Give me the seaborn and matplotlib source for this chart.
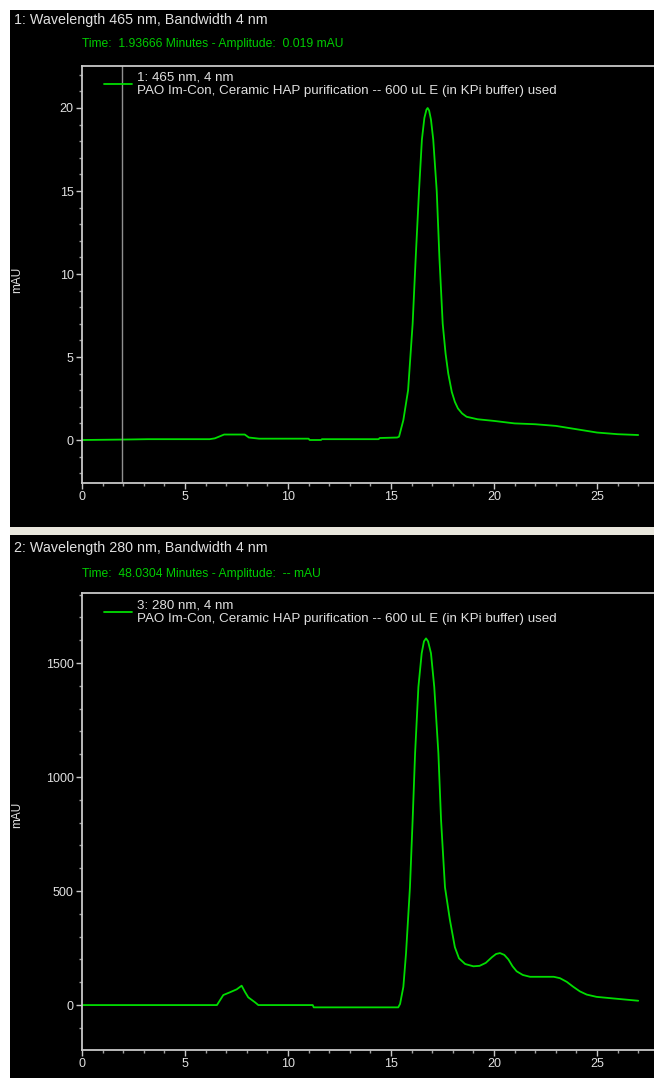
import matplotlib
matplotlib.use("Agg")
import matplotlib.pyplot as plt
from matplotlib.patches import Rectangle
from matplotlib.ticker import MultipleLocator
import seaborn as sns
import pandas as pd

# channel 1: 465 nm
time_465 = [0, 2.2, 3.2, 6.2, 6.45, 6.9, 7.9, 8.1, 8.6, 11.0, 11.05, 11.6, 11.65,
            14.4, 14.45, 15.3, 15.39, 15.6, 15.83, 16.05, 16.2, 16.36, 16.5, 16.62,
            16.72, 16.78, 16.85, 16.94, 17.05, 17.22, 17.35, 17.51, 17.65, 17.78,
            17.95, 18.1, 18.25, 18.45, 18.67, 19.2, 20.0, 21.0, 22.0, 23.0, 24.0,
            25.0, 25.5, 26.0, 27.0]
mau_465 = [0.0, 0.03, 0.05, 0.05, 0.1, 0.33, 0.33, 0.15, 0.08, 0.08, 0.0, 0.0, 0.05,
           0.05, 0.12, 0.15, 0.2, 1.2, 3.0, 7.0, 11.0, 15.0, 18.1, 19.4,
           19.9, 20.0, 19.85, 19.3, 18.1, 15.0, 11.0, 7.0, 5.2, 4.0,
           2.9, 2.3, 1.9, 1.6, 1.4, 1.25, 1.15, 1.0, 0.95, 0.85, 0.65,
           0.45, 0.4, 0.35, 0.3]

# channel 3: 280 nm
time_280 = [0, 6.55, 6.86, 7.18, 7.51, 7.75, 7.91, 8.07, 8.4, 8.56, 11.2, 11.25,
            15.35, 15.44, 15.6, 15.73, 15.92, 16.05, 16.17, 16.33, 16.49, 16.6,
            16.7, 16.8, 16.94, 17.1, 17.3, 17.43, 17.62, 17.86, 18.1, 18.3, 18.6,
            19.0, 19.3, 19.6, 19.9, 20.1, 20.29, 20.5, 20.7, 20.9, 21.1, 21.4,
            21.75, 22.9, 23.2, 23.53, 23.85, 24.17, 24.5, 24.98, 25.8, 27.0]
mau_280 = [0, 0, 44, 56, 69, 85, 58, 34, 12, 0, 0, -10,
           -10, 5, 80, 228, 517, 811, 1105, 1395, 1543, 1595,
           1608, 1595, 1543, 1395, 1105, 811, 517, 373, 254, 205, 180,
           170, 172, 185, 210, 224, 228, 220, 200, 170, 148, 132,
           124, 124, 118, 102, 80, 60, 46, 36, 29, 19]

headers = ["1: Wavelength 465 nm, Bandwidth 4 nm", "2: Wavelength 280 nm, Bandwidth 4 nm"]
cursor_texts = ["Time:  1.93666 Minutes - Amplitude:  0.019 mAU",
                "Time:  48.0304 Minutes - Amplitude:  -- mAU"]
legend_labels = ["1: 465 nm, 4 nm\nPAO Im-Con, Ceramic HAP purification -- 600 uL E (in KPi buffer) used",
                 "3: 280 nm, 4 nm\nPAO Im-Con, Ceramic HAP purification -- 600 uL E (in KPi buffer) used"]
cursor_time = 1.93666

W, H = 654, 1078
GREEN = "#00dd00"
TEXT = "#e0e0e0"
AXIS = "#c8c8c8"

sns.set_style("dark")
plt.rcParams["font.family"] = ["Liberation Sans", "DejaVu Sans"]

fig = plt.figure(figsize=(W / 100, H / 100), dpi=100, facecolor="white")


def px_rect(x0, y0, x1, y1, color):
    fig.add_artist(Rectangle((x0 / W, 1 - y1 / H), (x1 - x0) / W, (y1 - y0) / H,
                             transform=fig.transFigure, facecolor=color,
                             edgecolor="none", zorder=0))


# panel backgrounds
px_rect(10, 10, W, 527, "black")
px_rect(10, 527, W, 535, "#e9e7dd")
px_rect(10, 535, W, H, "black")


def make_axes(top, bottom):
    left = 82
    return fig.add_axes([left / W, 1 - bottom / H, (W - left) / W, (bottom - top) / H])


ax1 = make_axes(66, 483)
ax2 = make_axes(593, 1050)

df1 = pd.DataFrame({"time": time_465, "mau": mau_465})
df2 = pd.DataFrame({"time": time_280, "mau": mau_280})

specs = [
    (ax1, df1, (-2.59, 22.53), 5, 1, 0, 20, 44, 71, 280),
    (ax2, df2, (-197, 1807), 500, 100, 1, 548, 574, 599, 815),
]

for ax, df, ylim, major, minor, i, y_head, y_time, y_leg, y_lab in specs:
    ax.set_facecolor("black")
    sns.lineplot(data=df, x="time", y="mau", ax=ax, color=GREEN, linewidth=1.3,
                 label=legend_labels[i])
    ax.set_xlim(0, (W - 82) / 20.6)
    ax.set_ylim(*ylim)
    ax.xaxis.set_major_locator(MultipleLocator(5))
    ax.xaxis.set_minor_locator(MultipleLocator(1))
    ax.yaxis.set_major_locator(MultipleLocator(major))
    ax.yaxis.set_minor_locator(MultipleLocator(minor))
    ax.grid(False)
    for side in ["left", "bottom", "top"]:
        ax.spines[side].set_visible(True)
        ax.spines[side].set_color(AXIS)
        ax.spines[side].set_linewidth(1.3)
    ax.spines["right"].set_visible(False)
    ax.tick_params(which="major", direction="out", length=4, width=1, color=AXIS,
                   labelcolor=TEXT, labelsize=9, pad=2,
                   bottom=True, left=True)
    ax.tick_params(which="minor", direction="out", length=2.5, width=1, color="#a0a0a0",
                   bottom=True, left=True)
    ax.set_xlabel("")
    ax.set_ylabel("")
    ax.legend(loc="upper left", bbox_to_anchor=(104 / W, 1 - y_leg / H),
              bbox_transform=fig.transFigure, frameon=False, fontsize=9.6,
              labelcolor=TEXT, handlelength=2.1, handletextpad=0.35,
              borderpad=0, borderaxespad=0, labelspacing=0)

    fig.text(14 / W, 1 - y_head / H, headers[i], color=TEXT, fontsize=10.3,
             ha="left", va="center")
    fig.text(82 / W, 1 - y_time / H, cursor_texts[i], color="#00cc00", fontsize=8.7,
             ha="left", va="center")
    fig.text(17 / W, 1 - y_lab / H, "mAU",
             color=TEXT, fontsize=8.5, rotation=90, ha="center", va="center")

# cursor line in the first chromatogram
ax1.axvline(cursor_time, color="#909090", linewidth=1)

fig.savefig("out.png", dpi=100, facecolor="white")
